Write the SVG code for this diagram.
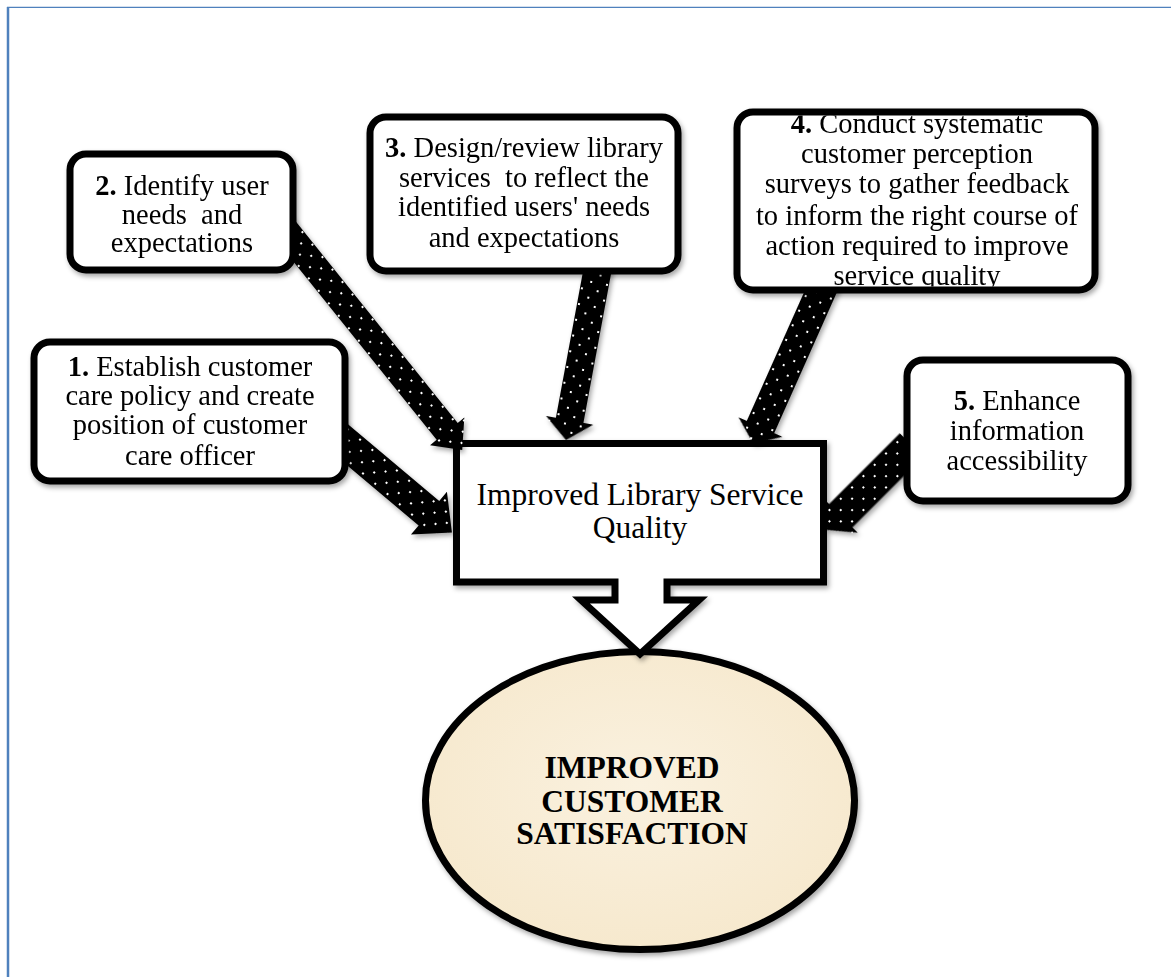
<svg xmlns="http://www.w3.org/2000/svg" width="1171" height="977" viewBox="0 0 1171 977">
<style>
.box{fill:#fff;stroke:#000;stroke-width:7}
.t{font-family:"Liberation Serif","Times New Roman",serif;font-size:28.5px;fill:#000;text-anchor:middle}
.c{font-family:"Liberation Serif","Times New Roman",serif;font-size:31.5px;fill:#000;text-anchor:middle}
.e{font-family:"Liberation Serif","Times New Roman",serif;font-size:31.5px;font-weight:bold;fill:#000;text-anchor:middle}
.arr{fill:url(#dots)}
</style>
<defs>
<pattern id="dots" width="16" height="16" patternUnits="userSpaceOnUse">
<rect width="16" height="16" fill="#000"/>
<rect x="3" y="3" width="2" height="2" fill="#fff"/>
<rect x="11" y="11" width="2" height="2" fill="#fff"/>
</pattern>
<filter id="sh" x="-10%" y="-10%" width="130%" height="130%">
<feDropShadow dx="2" dy="3" stdDeviation="2.5" flood-color="#000" flood-opacity="0.35"/>
</filter>
<radialGradient id="parch" cx="50%" cy="45%" r="60%">
<stop offset="0" stop-color="#faf1df"/>
<stop offset="1" stop-color="#f6e8cc"/>
</radialGradient>
<clipPath id="clip4"><rect x="740.5" y="115.5" width="351" height="171"/></clipPath>
</defs>

<g id="frame">
<line x1="8" y1="7" x2="8" y2="977" stroke="#4f81bd" stroke-width="2.5"/>
<line x1="7" y1="7.4" x2="1171" y2="7.4" stroke="#4f81bd" stroke-width="1.2"/>
</g>

<g id="satisfaction">
<ellipse cx="640" cy="800.5" rx="214.5" ry="149" fill="url(#parch)" stroke="#000" stroke-width="7" filter="url(#sh)"/>
<text class="e" x="632" y="778">IMPROVED</text>
<text class="e" x="632" y="812">CUSTOMER</text>
<text class="e" x="632" y="844">SATISFACTION</text>
</g>

<g id="quality">
<path class="box" filter="url(#sh)" d="M456.5,443.5 H823.5 V582 H667 V600 H699 L640,654 L581,600 H615 V582 H456.5 Z"/>
<text class="c" x="640" y="505">Improved Library Service</text>
<text class="c" x="640" y="538">Quality</text>
</g>

<g id="connectors" filter="url(#sh)">
<path class="arr" transform="translate(337,436) rotate(40)" d="M-10,-16 H120 V-28 L150,0 L120,28 V16 H-10 Z"/>
<path class="arr" transform="translate(280.5,224.1) rotate(51.2)" d="M-10,-13.5 H266 V-22 L290,0 L266,22 V13.5 H-10 Z"/>
<path class="arr" transform="translate(598.8,263) rotate(100.5)" d="M-5,-14 H160 V-24 L180,0 L160,24 V14 H-5 Z"/>
<path class="arr" transform="translate(821.5,290) rotate(114)" d="M-15,-15 H150 V-24 L168,0 L150,24 V15 H-15 Z"/>
<path class="arr" transform="translate(903,453.5) rotate(135)" d="M-12,-16.5 H88 V-24 L108,0 L88,24 V16.5 H-12 Z"/>
</g>

<g id="node1">
<rect class="box" x="34" y="342" width="311" height="139" rx="16" filter="url(#sh)"/>
<text class="t" x="190" y="376"><tspan font-weight="bold">1.</tspan> Establish customer</text>
<text class="t" x="190" y="405">care policy and create</text>
<text class="t" x="190" y="434">position of customer</text>
<text class="t" x="190" y="465">care officer</text>
</g>

<g id="node2">
<rect class="box" x="70" y="154" width="223" height="116" rx="16" filter="url(#sh)"/>
<text class="t" x="182" y="195"><tspan font-weight="bold">2.</tspan> Identify user</text>
<text class="t" x="182" y="224" xml:space="preserve">needs  and</text>
<text class="t" x="182" y="252">expectations</text>
</g>

<g id="node3">
<rect class="box" x="370" y="117" width="308" height="154" rx="16" filter="url(#sh)"/>
<text class="t" x="524" y="157"><tspan font-weight="bold">3.</tspan> Design/review library</text>
<text class="t" x="524" y="187" xml:space="preserve">services  to reflect the</text>
<text class="t" x="524" y="216">identified users' needs</text>
<text class="t" x="524" y="247">and expectations</text>
</g>

<g id="node4">
<rect class="box" x="737" y="112" width="358" height="178" rx="16" filter="url(#sh)"/>
<g clip-path="url(#clip4)">
<text class="t" x="917" y="133"><tspan font-weight="bold">4.</tspan> Conduct systematic</text>
<text class="t" x="917" y="163">customer perception</text>
<text class="t" x="917" y="193">surveys to gather feedback</text>
<text class="t" x="917" y="225">to inform the right course of</text>
<text class="t" x="917" y="255">action required to improve</text>
<text class="t" x="917" y="285">service quality</text>
</g>
</g>

<g id="node5">
<rect class="box" x="907" y="360" width="221" height="141" rx="16" filter="url(#sh)"/>
<text class="t" x="1017" y="410"><tspan font-weight="bold">5.</tspan> Enhance</text>
<text class="t" x="1017" y="440">information</text>
<text class="t" x="1017" y="470">accessibility</text>
</g>
</svg>
